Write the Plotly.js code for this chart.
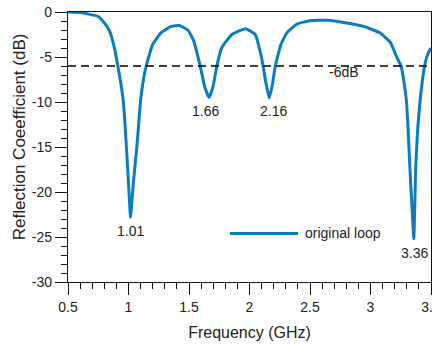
<!DOCTYPE html>
<html>
<head>
<meta charset="utf-8">
<script src="https://cdn.plot.ly/plotly-3.0.1.min.js"></script>
<style>
html,body{margin:0;padding:0;background:#fff;}
#chart{width:432px;height:344px;}
</style>
</head>
<body>
<div id="chart"></div>
<script>
// Frequency (GHz)
const freq = [0.5, 0.6, 0.66, 0.75, 0.80, 0.843, 0.884, 0.912, 0.935, 0.956, 0.97, 0.984, 1.0, 1.017, 1.04, 1.067, 1.085, 1.10, 1.12, 1.146, 1.20, 1.27, 1.353, 1.42, 1.49, 1.536, 1.59, 1.63, 1.666, 1.70, 1.73, 1.77, 1.854, 1.966, 2.047, 2.10, 2.135, 2.163, 2.19, 2.213, 2.26, 2.31, 2.392, 2.50, 2.64, 2.806, 2.944, 3.08, 3.165, 3.22, 3.253, 3.275, 3.296, 3.31, 3.325, 3.342, 3.358, 3.366, 3.374, 3.39, 3.41, 3.43, 3.447, 3.465, 3.483, 3.5];
// Reflection coefficient (dB)
const s11 = [0, -0.05, -0.2, -0.5, -1.2, -2.1, -4.0, -6.0, -7.8, -9.8, -12.2, -15.3, -19.0, -22.8, -19.0, -15.3, -12.3, -9.8, -7.8, -6.0, -3.6, -2.3, -1.6, -1.5, -2.0, -3.1, -5.85, -8.3, -9.5, -8.2, -6.0, -4.0, -2.5, -1.85, -2.5, -5.1, -7.8, -9.55, -8.0, -6.0, -3.6, -2.3, -1.33, -0.96, -0.92, -1.22, -1.6, -2.33, -3.4, -5.1, -6.0, -7.6, -9.8, -12.8, -17.2, -21.5, -25.2, -21.5, -17.2, -13.0, -9.8, -7.5, -6.0, -5.0, -4.4, -4.0];

const seriesName = 'original loop';
const refLevel = -6;
const refLabel = '-6dB';
const peakLabels = ['1.01', '1.66', '2.16', '3.36'];
const xTitle = 'Frequency (GHz)';
const yTitle = 'Reflection Coeefficient (dB)';
const xTickVals = [0.5, 1, 1.5, 2, 2.5, 3, 3.5];
const xTickText = ['0.5', '1', '1.5', '2', '2.5', '3', '3.5'];
const yTickVals = [0, -5, -10, -15, -20, -25, -30];
const yTickText = ['0', '-5', '-10', '-15', '-20', '-25', '-30'];

const blue = '#0a7dc2';
const ink = '#222';
const font = 'Liberation Sans, Arial, Helvetica, sans-serif';

const trace = {
  x: freq, y: s11, type: 'scatter', mode: 'lines', name: seriesName,
  line: {color: blue, width: 3, shape: 'spline', smoothing: 0.4},
  showlegend: false, hoverinfo: 'skip'
};

const labelPos = [[1.02, -24.3], [1.64, -11.0], [2.20, -11.0], [3.364, -26.8]];
const annotations = peakLabels.map((t, i) => ({
  text: t, x: labelPos[i][0], y: labelPos[i][1], xref: 'x', yref: 'y',
  showarrow: false, font: {family: font, size: 14, color: ink}
}));
annotations.push({text: refLabel, x: 2.78, y: -6.7, xref: 'x', yref: 'y', showarrow: false,
  font: {family: font, size: 14, color: ink}});
annotations.push({text: seriesName, x: 0.648, y: 0.18, xref: 'paper', yref: 'paper',
  xanchor: 'left', yanchor: 'middle', showarrow: false, font: {family: font, size: 14, color: ink}});
annotations.push({text: yTitle, x: -0.135, y: 0.54, xref: 'paper', yref: 'paper', textangle: -90,
  xanchor: 'center', yanchor: 'middle',
  showarrow: false, font: {family: font, size: 17, color: ink}});

const shapes = [
  {type: 'line', xref: 'paper', yref: 'y', x0: 0, x1: 1, y0: refLevel, y1: refLevel,
   line: {color: '#000', width: 1.3, dash: '8px,5px'}},
  {type: 'line', xref: 'paper', yref: 'paper', x0: 0.446, x1: 0.634, y0: 0.18, y1: 0.18,
   line: {color: blue, width: 3}}
];

const axisCommon = {
  showgrid: false, zeroline: false, showline: true, linecolor: '#111', linewidth: 1.2,
  mirror: true, ticks: 'outside', ticklen: 12, tickwidth: 1, tickcolor: '#111',
  ticklabeloverflow: 'allow',
  tickfont: {family: font, size: 14, color: ink}
};

const layout = {
  width: 432, height: 344,
  margin: {l: 68, r: 1, t: 12, b: 62},
  paper_bgcolor: '#fff', plot_bgcolor: '#fff',
  xaxis: Object.assign({}, axisCommon, {
    range: [0.5, 3.5], tickmode: 'array', tickvals: xTickVals, ticktext: xTickText,
    minor: {dtick: 0.1, ticklen: 6, tickwidth: 1, tickcolor: '#111', ticks: 'outside', showgrid: false},
    title: {text: xTitle, font: {family: font, size: 16, color: ink}, standoff: 12}
  }),
  yaxis: Object.assign({}, axisCommon, {
    range: [-30, 0], tickmode: 'array', tickvals: yTickVals, ticktext: yTickText,
    minor: {dtick: 1, ticklen: 6, tickwidth: 1, tickcolor: '#111', ticks: 'outside', showgrid: false}
  }),
  annotations: annotations,
  shapes: shapes,
  showlegend: false
};

Plotly.newPlot('chart', [trace], layout, {staticPlot: true, displayModeBar: false});
</script>
</body>
</html>
